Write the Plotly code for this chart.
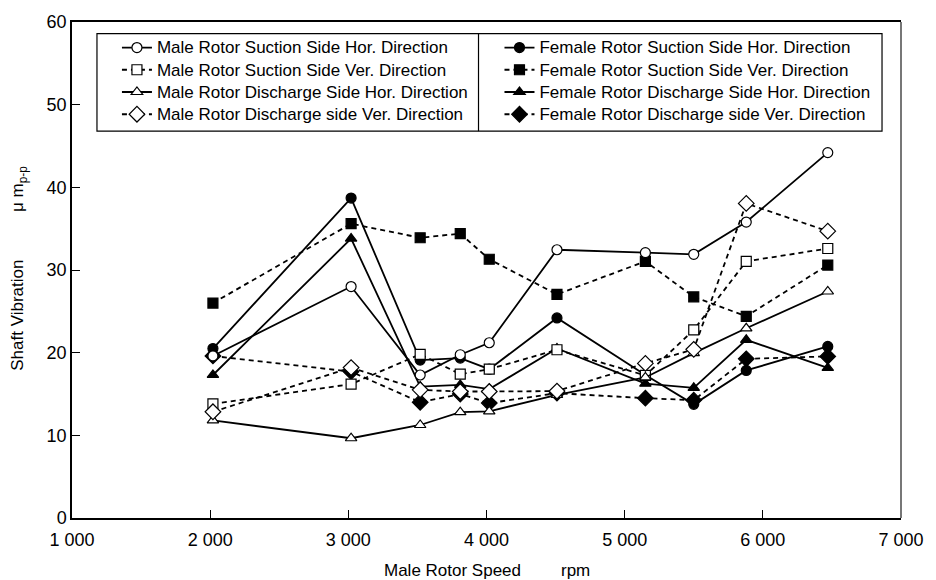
import plotly.graph_objects as go

# ---- data -------------------------------------------------------------
speed_rpm = [2020, 3020, 3520, 3810, 4020, 4510, 5150, 5500, 5880, 6470]

male_suction_hor = [19.6, 28.0, 17.3, 19.75, 21.2, 32.45, 32.1, 31.9, 35.8, 44.2]
male_suction_ver = [13.8, 16.2, 19.8, 17.4, 18.0, 20.35, 17.25, 22.75, 31.05, 32.6]
male_discharge_hor = [11.8, 9.65, 11.25, 12.8, 12.9, 14.9, 17.0, 19.95, 22.95, 27.4]
male_discharge_ver = [12.85, 18.2, 15.5, 15.3, 15.3, 15.35, 18.7, 20.4, 38.05, 34.7]

female_suction_hor = [20.5, 38.7, 19.1, 19.35, 18.0, 24.2, 17.3, 13.75, 17.85, 20.75]
female_suction_ver = [26.0, 35.6, 33.9, 34.4, 31.3, 27.05, 31.05, 26.75, 24.4, 30.6]
female_discharge_hor = [17.3, 33.8, 15.9, 16.1, 15.6, 20.5, 16.25, 15.75, 21.55, 18.15]
female_discharge_ver = [19.6, 17.7, 14.0, 15.0, 13.9, 15.1, 14.5, 14.25, 19.25, 19.55]

x_tick_vals = [1000, 2000, 3000, 4000, 5000, 6000, 7000]
x_tick_text = ["1 000", "2 000", "3 000", "4 000", "5 000", "6 000", "7 000"]
y_tick_vals = [0, 10, 20, 30, 40, 50, 60]

# ---- layout geometry (pixels) ----------------------------------------
W, H = 936, 580
PL, PR, PT, PB = 72, 902, 17.5, 518.3


def px(xp):
    return (xp - PL) / (PR - PL)


def py(yp):
    return (PB - yp) / (PB - PT)


FONT = "Liberation Sans, Arial, sans-serif"
DASH = "5px,4px"
LW = 1.8

fig = go.Figure()


def add(name, y, symbol, filled, dash, legend, rank):
    fig.add_trace(go.Scatter(
        x=speed_rpm, y=y,
        name='<span style="font-size:17px">' + name + '</span>',
        mode="lines+markers",
        line=dict(color="black", width=LW, dash=dash),
        marker=dict(symbol=symbol, size=10 if symbol != "diamond" else 12,
                    color="black" if filled else "white",
                    line=dict(color="black", width=1.2)),
        legend=legend, legendrank=rank,
    ))


# filled (female) series first so that open markers sit on top
add("Female Rotor Suction Side Hor. Direction", female_suction_hor, "circle", True, "solid", "legend2", 1)
add("Female Rotor Suction Side Ver. Direction", female_suction_ver, "square", True, DASH, "legend2", 2)
add("Female Rotor Discharge Side Hor. Direction", female_discharge_hor, "triangle-up", True, "solid", "legend2", 3)
add("Female Rotor Discharge side Ver. Direction", female_discharge_ver, "diamond", True, DASH, "legend2", 4)
add("Male Rotor Suction Side Hor. Direction", male_suction_hor, "circle", False, "solid", "legend", 1)
add("Male Rotor Suction Side Ver. Direction", male_suction_ver, "square", False, DASH, "legend", 2)
add("Male Rotor Discharge Side Hor. Direction", male_discharge_hor, "triangle-up", False, "solid", "legend", 3)
add("Male Rotor Discharge side Ver. Direction", male_discharge_ver, "diamond", False, DASH, "legend", 4)

leg_common = dict(font=dict(family=FONT, size=14.8, color="black"),
                  bgcolor="rgba(0,0,0,0)", borderwidth=0,
                  xanchor="left", yanchor="top", itemwidth=30,
                  traceorder="normal")

fig.update_layout(
    width=W, height=H, autosize=False,
    margin=dict(l=PL, r=W - PR, t=PT, b=H - PB),
    paper_bgcolor="white", plot_bgcolor="white",
    font=dict(family=FONT, size=18, color="black"),
    showlegend=True,
    legend=dict(x=px(117), y=py(27), **leg_common),
    legend2=dict(x=px(500), y=py(27), **leg_common),
    xaxis=dict(range=[1000, 7000], tickvals=x_tick_vals, ticktext=x_tick_text,
               ticks="inside", ticklen=8, tickwidth=1, tickcolor="black",
               showline=True, linecolor="black", linewidth=1.5, mirror=True,
               showgrid=False, zeroline=False, ticklabelstandoff=5,
               tickfont=dict(family=FONT, size=18, color="black")),
    yaxis=dict(range=[0, 60], tickvals=y_tick_vals,
               ticks="inside", ticklen=8, tickwidth=1, tickcolor="black",
               showline=True, linecolor="black", linewidth=1.5, mirror=False,
               showgrid=False, zeroline=False,
               tickfont=dict(family=FONT, size=18, color="black")),
    shapes=[
        # right frame edge (grey)
        dict(type="line", xref="paper", yref="paper", x0=1, x1=1, y0=0, y1=1,
             line=dict(color="#777777", width=2)),
        # legend box and divider
        dict(type="rect", xref="paper", yref="paper",
             x0=px(97), x1=px(883), y0=py(127.7), y1=py(29.3),
             line=dict(color="black", width=1.2), fillcolor="rgba(0,0,0,0)"),
        dict(type="line", xref="paper", yref="paper",
             x0=px(479), x1=px(479), y0=py(127.7), y1=py(29.3),
             line=dict(color="black", width=1.2)),
    ],
    annotations=[
        dict(text="Shaft Vibration", xref="paper", yref="paper",
             x=px(18), y=py(314), textangle=-90, showarrow=False,
             xanchor="center", yanchor="middle",
             font=dict(family=FONT, size=17, color="black")),
        dict(text="μ m<sub>p-p</sub>", xref="paper", yref="paper",
             x=px(19), y=py(186), textangle=-90, showarrow=False,
             xanchor="center", yanchor="middle",
             font=dict(family=FONT, size=17, color="black")),
        dict(text="Male Rotor Speed", xref="paper", yref="paper",
             x=px(453), y=py(571.7), showarrow=False,
             xanchor="center", yanchor="middle",
             font=dict(family=FONT, size=17, color="black")),
        dict(text="rpm", xref="paper", yref="paper",
             x=px(576.5), y=py(571.7), showarrow=False,
             xanchor="center", yanchor="middle",
             font=dict(family=FONT, size=17, color="black")),
    ],
)

fig.write_html("out.html", config={"displayModeBar": False},
               post_script="document.body.style.margin='0px';")
